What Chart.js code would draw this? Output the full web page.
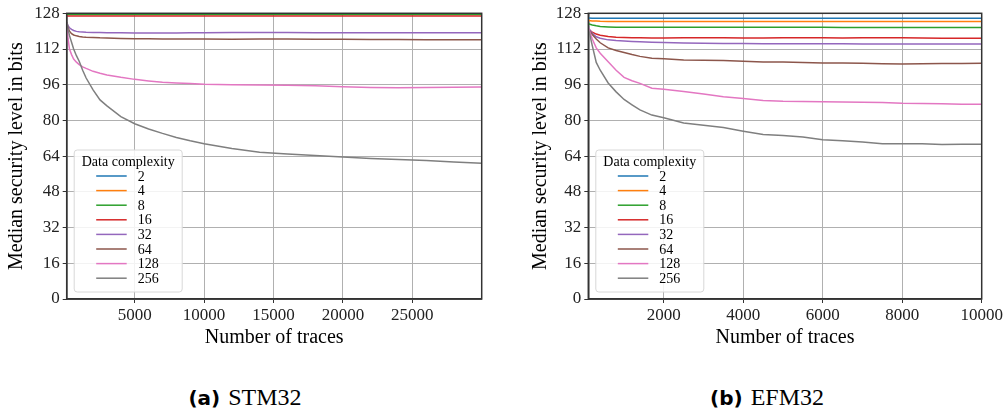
<!DOCTYPE html>
<html>
<head>
<meta charset="utf-8">
<script src="https://cdn.jsdelivr.net/npm/chart.js@4"></script>
<style>
  body { margin: 0; background: #fff; }
  #wrap { position: relative; width: 1007px; height: 417px; }
  .box { position: absolute; top: 0; height: 360px; }
  .cap { position: absolute; top: 384px; width: 300px; text-align: center; color: #000; white-space: nowrap; }
  .cap b { font-family: "DejaVu Sans", sans-serif; font-size: 20px; margin-right: 8px; }
  .cap span { font-family: "Liberation Serif", serif; font-size: 24px; }
</style>
</head>
<body>
<div id="wrap">
  <div class="box" style="left:0;width:500px"><canvas id="stm"></canvas></div>
  <div class="box" style="left:520px;width:487px"><canvas id="efm"></canvas></div>
  <div class="cap" style="left:95px"><b>(a)</b><span>STM32</span></div>
  <div class="cap" style="left:617px"><b>(b)</b><span>EFM32</span></div>
</div>
<script>
// legend labels and colours (matplotlib tab10)
const complexities = ['2', '4', '8', '16', '32', '64', '128', '256'];
const colors = ['#1f77b4', '#ff7f0e', '#2ca02c', '#d62728', '#9467bd', '#8c564b', '#e377c2', '#7f7f7f'];
const yTicks = [0, 16, 32, 48, 64, 80, 96, 112, 128];

// (a) STM32
const stmTraces = [100, 200, 300, 450, 600, 800, 1000, 1250, 1500, 2000, 2500, 3000, 4000, 5000, 6000, 7000, 8000, 9000, 10000,
                   12000, 14000, 16000, 18000, 20000, 22000, 24000, 26000, 28000, 30000];
const stmTicks = [5000, 10000, 15000, 20000, 25000];
const stm2   = [127.9, 127.9, 127.9, 127.9, 127.9, 127.9, 127.9, 127.9, 127.9, 127.9, 127.9, 127.9, 127.9, 127.9, 127.9, 127.9, 127.9, 127.9, 127.9,
                127.9, 127.9, 127.9, 127.9, 127.9, 127.9, 127.9, 127.9, 127.9, 127.9];
const stm4   = [127.7, 127.7, 127.7, 127.7, 127.7, 127.7, 127.7, 127.7, 127.7, 127.7, 127.7, 127.7, 127.7, 127.7, 127.7, 127.7, 127.7, 127.7, 127.7,
                127.7, 127.7, 127.7, 127.7, 127.7, 127.7, 127.7, 127.7, 127.7, 127.7];
const stm8   = [127.5, 127.5, 127.5, 127.5, 127.5, 127.5, 127.5, 127.5, 127.5, 127.5, 127.5, 127.5, 127.5, 127.5, 127.5, 127.5, 127.5, 127.5, 127.5,
                127.5, 127.5, 127.5, 127.5, 127.5, 127.5, 127.5, 127.5, 127.5, 127.5];
const stm16  = [126.8, 126.8, 126.8, 126.8, 126.8, 126.8, 126.8, 126.8, 126.8, 126.8, 126.8, 126.8, 126.8, 126.8, 126.8, 126.8, 126.8, 126.8, 126.8,
                126.8, 126.8, 126.8, 126.8, 126.8, 126.8, 126.8, 126.8, 126.8, 126.8];
const stm32  = [124.0, 122.5, 121.5, 120.8, 120.3, 119.9, 119.7, 119.6, 119.5, 119.4, 119.4, 119.3, 119.3, 119.2, 119.2, 119.2, 119.2, 119.3, 119.3,
                119.4, 119.4, 119.4, 119.3, 119.3, 119.3, 119.3, 119.3, 119.3, 119.3];
const stm64  = [124.0, 121.5, 120.0, 118.9, 118.3, 117.9, 117.6, 117.4, 117.3, 117.2, 117.0, 116.9, 116.7, 116.6, 116.6, 116.5, 116.5, 116.5, 116.5,
                116.4, 116.5, 116.5, 116.4, 116.4, 116.3, 116.3, 116.2, 116.2, 116.2];
const stm128 = [123.5, 116.5, 112.0, 109.5, 107.5, 106.1, 105.0, 104.0, 103.3, 102.0, 101.1, 100.4, 99.3, 98.4, 97.7, 97.1, 96.8, 96.5, 96.2,
                96.0, 95.9, 95.8, 95.5, 95.1, 94.8, 94.7, 94.8, 94.9, 95.0];
const stm256 = [124.0, 121.0, 118.0, 115.0, 112.0, 109.0, 106.5, 102.5, 99.0, 93.7, 89.2, 86.5, 81.7, 78.5, 76.2, 74.2, 72.4, 70.9, 69.6,
                67.4, 65.8, 65.0, 64.3, 63.6, 63.0, 62.5, 62.0, 61.4, 60.8];

// (b) EFM32
const efmTraces = [100, 200, 300, 400, 600, 800, 1000, 1200, 1400, 1700, 2000, 2500, 3000, 3500, 4000,
                   4500, 5000, 5500, 6000, 6500, 7000, 7500, 8000, 8500, 9000, 9500, 10000];
const efmTicks = [2000, 4000, 6000, 8000, 10000];
const efm2   = [125.9, 125.8, 125.8, 125.8, 125.8, 125.8, 125.8, 125.8, 125.8, 125.8, 125.8, 125.8, 125.8, 125.8, 125.8,
                125.8, 125.8, 125.8, 125.8, 125.8, 125.8, 125.8, 125.8, 125.8, 125.8, 125.8, 125.8];
const efm4   = [124.8, 124.6, 124.5, 124.4, 124.3, 124.3, 124.3, 124.3, 124.3, 124.3, 124.3, 124.3, 124.3, 124.3, 124.3,
                124.3, 124.3, 124.3, 124.3, 124.3, 124.3, 124.3, 124.3, 124.3, 124.3, 124.3, 124.3];
const efm8   = [123.3, 122.8, 122.4, 122.1, 121.9, 121.7, 121.7, 121.7, 121.7, 121.7, 121.7, 121.7, 121.7, 121.7, 121.7,
                121.7, 121.7, 121.7, 121.7, 121.6, 121.6, 121.6, 121.6, 121.6, 121.6, 121.6, 121.6];
const efm16  = [120.8, 119.6, 118.7, 118.2, 117.6, 117.3, 117.2, 117.0, 117.0, 116.9, 116.9, 117.0, 117.0, 117.0, 116.9,
                116.9, 117.0, 117.0, 117.0, 116.9, 117.0, 117.0, 117.0, 116.9, 116.8, 116.8, 116.8];
const efm32  = [121.5, 119.0, 117.5, 116.8, 116.1, 115.8, 115.6, 115.4, 115.2, 115.0, 114.9, 114.7, 114.6, 114.5, 114.5,
                114.4, 114.4, 114.4, 114.4, 114.4, 114.3, 114.3, 114.3, 114.3, 114.2, 114.2, 114.2];
const efm64  = [121.0, 118.5, 116.5, 114.8, 112.5, 111.3, 110.4, 109.5, 108.7, 107.9, 107.6, 107.1, 107.0, 106.8, 106.5,
                106.2, 106.2, 106.0, 105.7, 105.7, 105.6, 105.4, 105.3, 105.4, 105.5, 105.5, 105.6];
const efm128 = [121.5, 116.5, 112.5, 110.1, 106.3, 102.5, 99.3, 97.8, 96.6, 94.4, 94.0, 93.0, 91.8, 90.6, 89.8,
                88.9, 88.6, 88.5, 88.4, 88.3, 88.1, 88.0, 87.7, 87.6, 87.5, 87.3, 87.2];
const efm256 = [121.5, 113.5, 106.0, 102.5, 96.8, 92.8, 89.4, 87.0, 84.7, 82.4, 81.2, 78.9, 77.8, 76.8, 75.2,
                73.7, 73.2, 72.6, 71.3, 70.9, 70.3, 69.6, 69.5, 69.6, 69.2, 69.3, 69.3];

const serif = '"Liberation Serif", "Times New Roman", serif';

// frame (top/right spines) + legend box inside the plot, bottom-left
const framePlugin = {
    id: 'frame',
    afterDatasetsDraw(chart) {
        const a = chart.chartArea, ctx = chart.ctx;
        ctx.save();
        ctx.strokeStyle = '#333';
        ctx.lineWidth = 1.5;
        ctx.strokeRect(a.left, a.top, a.right - a.left, a.bottom - a.top);

        // legend
        const w = 108, h = 142;
        const x0 = a.left + 7.5, y0 = a.bottom - 7 - h;
        ctx.beginPath();
        ctx.roundRect(x0, y0, w, h, 3);
        ctx.fillStyle = 'rgba(255,255,255,0.85)';
        ctx.fill();
        ctx.strokeStyle = '#d8d8d8';
        ctx.lineWidth = 1;
        ctx.stroke();
        ctx.fillStyle = '#000';
        ctx.font = '14px ' + serif;
        ctx.textBaseline = 'middle';
        ctx.textAlign = 'center';
        ctx.fillText('Data complexity', x0 + w / 2, y0 + 12);
        ctx.textAlign = 'left';
        chart.data.datasets.forEach((ds, i) => {
            const yy = y0 + 26 + i * 14.6;
            ctx.strokeStyle = ds.borderColor;
            ctx.lineWidth = 1.5;
            ctx.beginPath();
            ctx.moveTo(x0 + 22, yy);
            ctx.lineTo(x0 + 52.5, yy);
            ctx.stroke();
            ctx.fillText(ds.label, x0 + 63.5, yy + 1);
        });
        ctx.restore();
    }
};

function makeChart(id, traces, series, xMax, xTicks, yWidth, padRight, yTitlePad) {
    const datasets = series.map((s, i) => ({
        label: complexities[i],
        data: traces.map((t, j) => ({x: t, y: s[j]})),
        borderColor: colors[i],
        borderWidth: 1.5,
        pointRadius: 0,
        order: series.length - 1 - i
    }));
    const grid = {color: '#b0b0b0', lineWidth: 1, tickColor: '#333', tickLength: 4};
    return new Chart(document.getElementById(id), {
        type: 'line',
        data: {datasets: datasets},
        options: {
            responsive: true,
            maintainAspectRatio: false,
            animation: false,
            layout: {padding: {top: 13.3, right: padRight, left: 0, bottom: 0}},
            plugins: {legend: {display: false}, tooltip: {enabled: false}},
            scales: {
                x: {
                    type: 'linear', min: 100, max: xMax,
                    afterBuildTicks: s => { s.ticks = xTicks.map(v => ({value: v})); },
                    afterFit: s => { s.height = 61; },
                    grid: grid,
                    border: {color: '#333', width: 1.5},
                    ticks: {color: '#222', font: {family: serif, size: 17}, padding: 2, maxRotation: 0,
                            callback: v => String(v)},
                    title: {display: true, text: 'Number of traces', color: '#000',
                            font: {family: serif, size: 20}, padding: {top: 0, bottom: 10}}
                },
                y: {
                    type: 'linear', min: 0, max: 128,
                    afterBuildTicks: s => { s.ticks = yTicks.map(v => ({value: v})); },
                    afterFit: s => { s.width = yWidth; },
                    grid: grid,
                    border: {color: '#333', width: 1.5},
                    ticks: {color: '#222', font: {family: serif, size: 17}, padding: 3,
                            callback: v => String(v)},
                    title: {display: true, text: 'Median security level in bits', color: '#000',
                            font: {family: serif, size: 20}, padding: {top: yTitlePad, bottom: 0}}
                }
            }
        },
        plugins: [framePlugin]
    });
}

makeChart('stm', stmTraces, [stm2, stm4, stm8, stm16, stm32, stm64, stm128, stm256], 30000, stmTicks, 66.7, 18.3, 5);
makeChart('efm', efmTraces, [efm2, efm4, efm8, efm16, efm32, efm64, efm128, efm256], 10000, efmTicks, 68.3, 25.3, 9);
</script>
</body>
</html>
